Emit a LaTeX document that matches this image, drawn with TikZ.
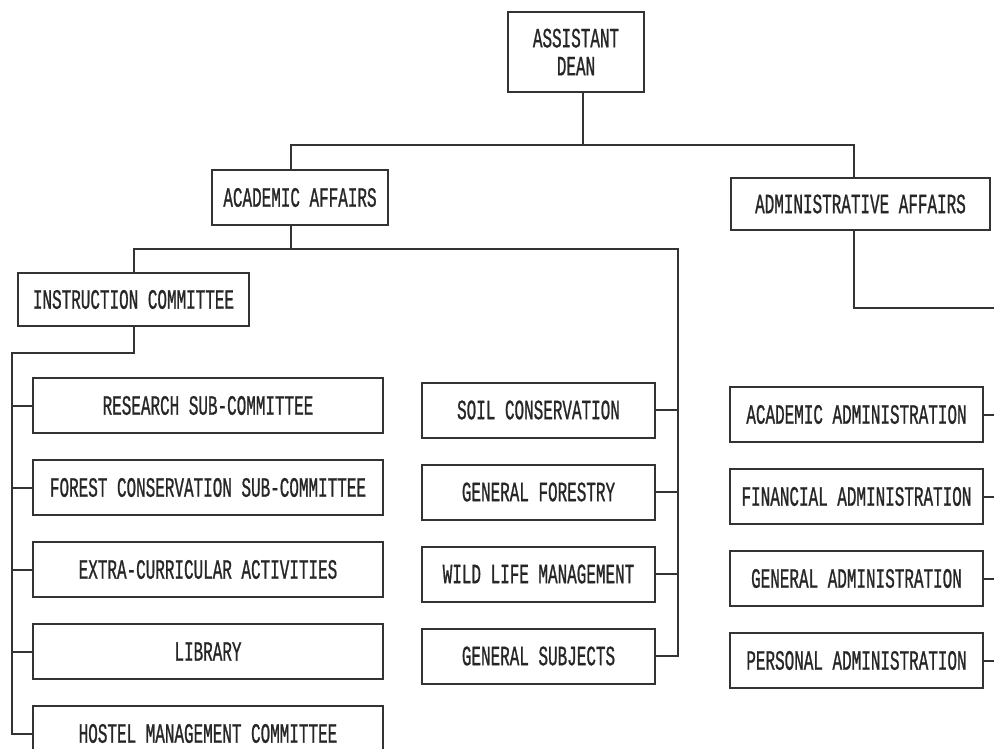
\documentclass[tikz,border=0pt]{standalone}
\usepackage{fontspec}
\usepackage{tikz}
\usetikzlibrary{positioning}
\newfontfamily\orgfont[FakeStretch=0.57,FakeBold=0.8]{Liberation Mono}

\begin{document}
\begin{tikzpicture}[x=1pt, y=-1pt, node distance=25pt, line width=2pt, draw=black!80,
  box/.style = {draw, rectangle, inner sep=0pt, minimum height=55pt, text=black!85,
                font=\orgfont\fontsize{28}{28}\selectfont},
  lcol/.style = {box, minimum width=350pt},
  mcol/.style = {box, minimum width=233pt},
  rcol/.style = {box, minimum width=253pt}]
\useasboundingbox (0,0) rectangle (994,749);

\node[box, minimum width=136pt, minimum height=80pt, align=center] (dean) at (576,52) {ASSISTANT\\DEAN};
\node[box, minimum width=176pt] (acad) at (300,197.5) {ACADEMIC AFFAIRS};
\node[box, minimum width=259pt, minimum height=52pt] (admin) at (860.5,204) {ADMINISTRATIVE AFFAIRS};
\node[box, minimum width=231pt, minimum height=53pt] (instr) at (133.5,299.5) {INSTRUCTION COMMITTEE};

\node[lcol] (research) at (208,405.5) {RESEARCH SUB-COMMITTEE};
\node[lcol] (forest) [below=of research] {FOREST CONSERVATION SUB-COMMITTEE};
\node[lcol] (extra) [below=of forest] {EXTRA-CURRICULAR ACTIVITIES};
\node[lcol] (library) [below=of extra] {LIBRARY};
\node[lcol] (hostel) [below=of library] {HOSTEL MANAGEMENT COMMITTEE};

\node[mcol] (soil) at (538.5,410) {SOIL CONSERVATION};
\node[mcol] (genfor) [below=of soil] {GENERAL FORESTRY};
\node[mcol] (wildlife) [below=of genfor] {WILD LIFE MANAGEMENT};
\node[mcol] (gensub) [below=of wildlife] {GENERAL SUBJECTS};

\node[rcol] (acadadm) at (856.5,414.5) {ACADEMIC ADMINISTRATION};
\node[rcol] (finadm) [below=of acadadm] {FINANCIAL ADMINISTRATION};
\node[rcol] (genadm) [below=of finadm] {GENERAL ADMINISTRATION};
\node[rcol] (persadm) [below=of genadm] {PERSONAL ADMINISTRATION};

% top level
\coordinate (top) at (583,145);
\draw (dean.south -| top) -- (top);
\draw ([xshift=-9pt]acad.north) |- (top) -| ([xshift=-7pt]admin.north);

% academic side
\draw ([xshift=-9pt]acad.south) -- ++(0,23) coordinate (acadbus);
\draw (instr.north) |- (acadbus) -| ([xshift=22pt]gensub.east) -- (gensub.east);
\draw (soil.east) -- ++(22,0);
\draw (genfor.east) -- ++(22,0);
\draw (wildlife.east) -- ++(22,0);

\draw (instr.south) -- ++(0,26) -| ([xshift=-20pt]hostel.west) -- (hostel.west);
\draw (research.west) -- ++(-20,0);
\draw (forest.west) -- ++(-20,0);
\draw (extra.west) -- ++(-20,0);
\draw (library.west) -- ++(-20,0);

% administrative side
\coordinate (adminout) at (994,308);
\draw ([xshift=-7pt]admin.south) |- (adminout);
\draw (acadadm.east) -- ++(11,0);
\draw (finadm.east) -- ++(11,0);
\draw (genadm.east) -- ++(11,0);
\draw (persadm.east) -- ++(11,0);
\end{tikzpicture}
\end{document}
